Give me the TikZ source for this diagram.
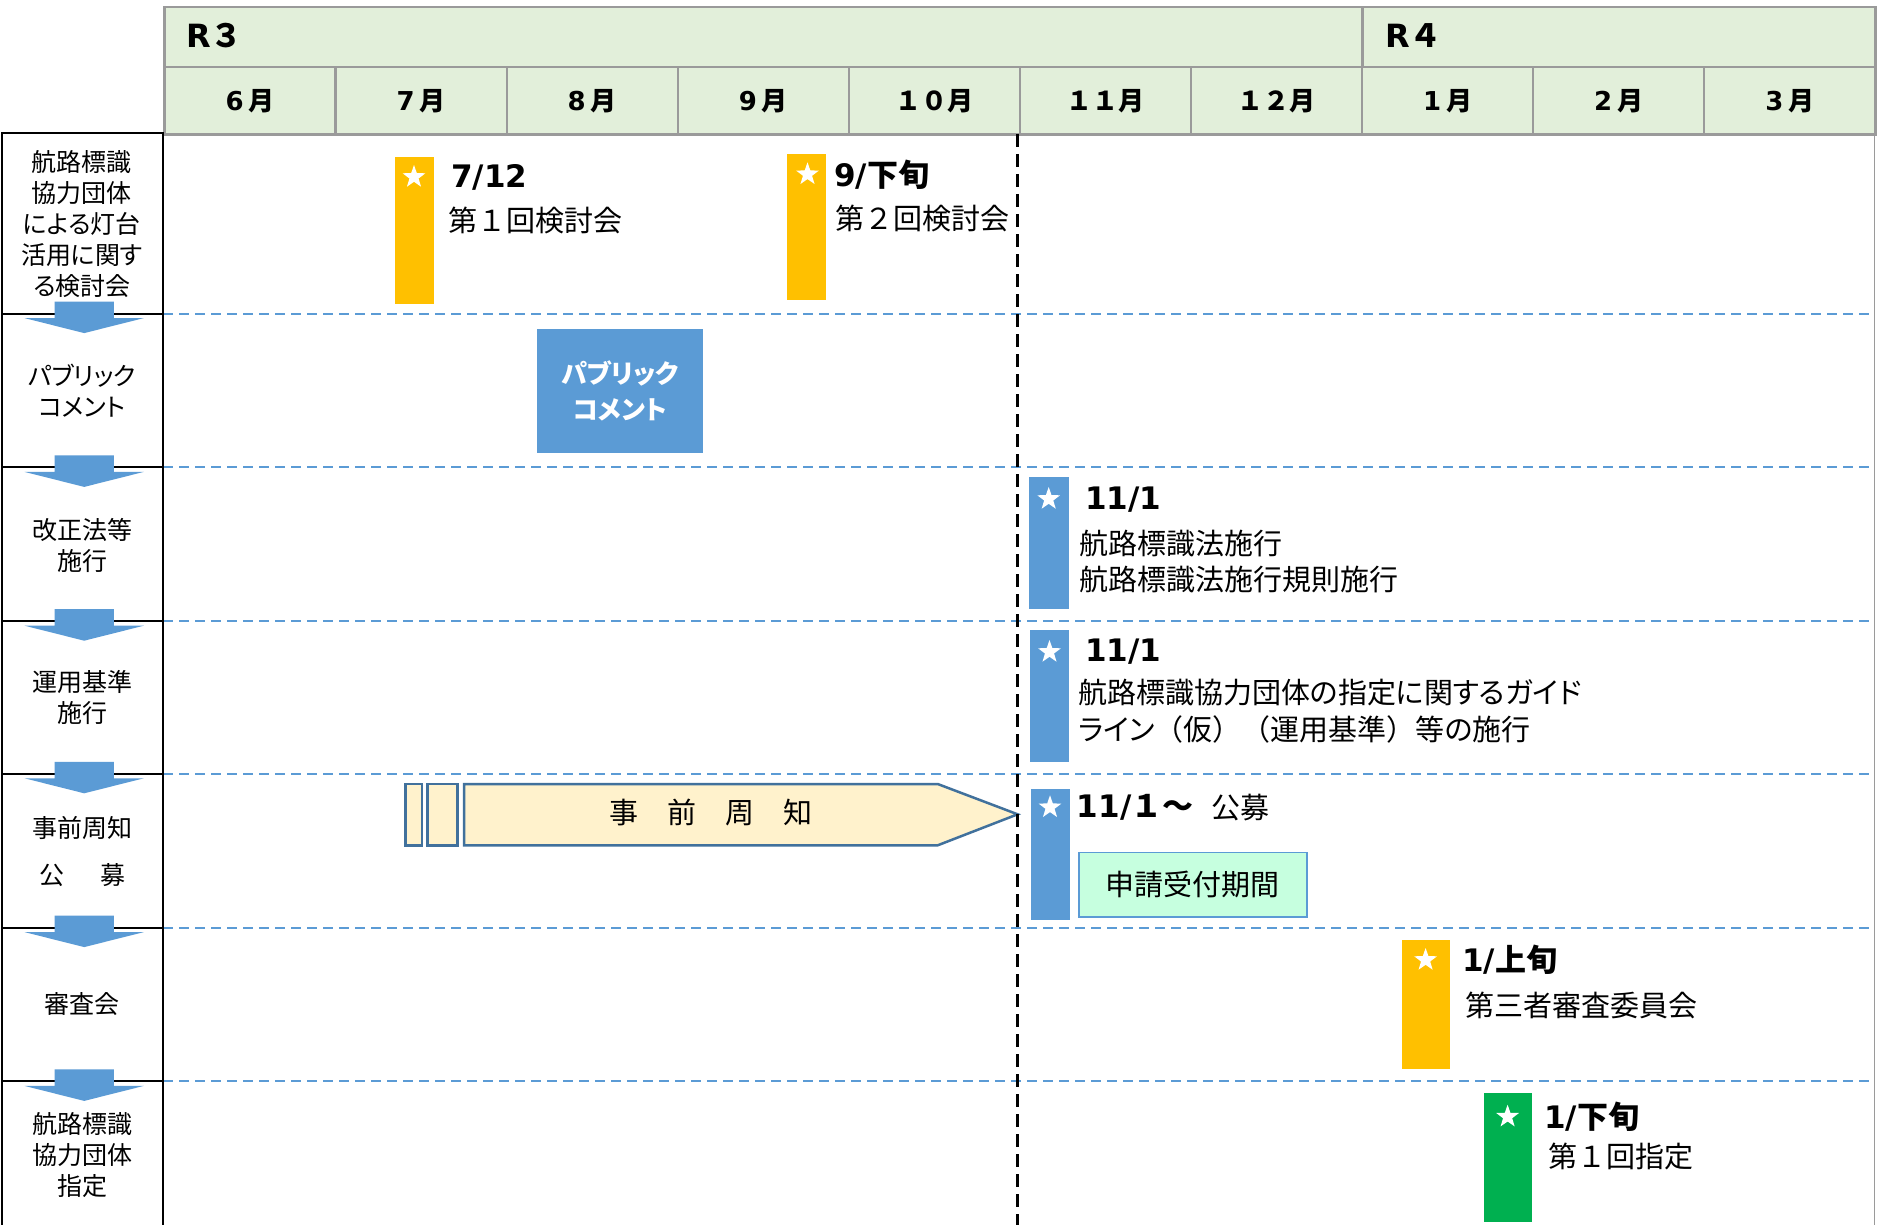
\documentclass[tikz,border=0pt]{standalone}
\usepackage{fontspec}
\setmainfont{Noto Sans CJK JP}
\newfontfamily\jpp{Noto Sans CJK JP}[RawFeature=+palt]
\newfontfamily\lat{DejaVu Sans}
\usetikzlibrary{shapes.geometric}
\definecolor{hdrfill}{HTML}{E2EFDA}
\definecolor{hdrline}{HTML}{9A9A9A}
\definecolor{accblue}{HTML}{5B9BD5}
\definecolor{accyellow}{HTML}{FFC000}
\definecolor{accgreen}{HTML}{00B050}
\definecolor{notefill}{HTML}{FFF2CC}
\definecolor{noteline}{HTML}{41719C}
\definecolor{mintfill}{HTML}{C6FFDF}
\tikzset{
  yearcell/.style={draw=hdrline, fill=hdrfill, line width=2.2pt, inner sep=0pt, anchor=north west},
  yeartext/.style={font=\bfseries\fontsize{32}{36}\selectfont, anchor=west, inner sep=0pt},
  monthcell/.style={draw=hdrline, fill=hdrfill, line width=2.2pt, inner sep=0pt, anchor=north west,
    minimum width=171.09pt, minimum height=67.4pt, font=\bfseries\fontsize{26}{30}\selectfont},
  colline/.style={draw=black, line width=2pt},
  rowsep/.style={draw=accblue, line width=2pt, dash pattern=on 10pt off 6pt},
  nowline/.style={draw=black, line width=2.5pt, dash pattern=on 13pt off 7pt},
  collbl/.style={font=\jpp\fontsize{25}{31}\selectfont, align=center, inner sep=0pt},
  evbar/.style={inner sep=0pt, anchor=north west, draw=none},
  evstar/.style={star, star points=5, star point ratio=2.5, fill=white, inner sep=0pt, minimum size=24pt},
  evdate/.style={font=\bfseries\fontsize{31}{36}\selectfont, anchor=west, inner sep=0pt},
  evtext/.style={font=\fontsize{29}{36.5}\selectfont, anchor=west, align=left, inner sep=0pt},
  downarrow/.style={fill=accblue}
}
\begin{document}
\begin{tikzpicture}[x=1pt,y=-1pt]
\useasboundingbox (0,0) rectangle (1884,1225);
\fill[white] (0,0) rectangle (1884,1225);

% ---------- header ----------
\node[yearcell, minimum width=1197.9pt, minimum height=60pt] (r3) at (163.4,6) {};
\node[yeartext] (r3t) at (186,36) {{\lat R}３};
\node[yearcell, minimum width=513pt, minimum height=60pt] (r4) at (1361.3,6) {};
\node[yeartext] (r4t) at (1385,36) {{\lat R}４};
\foreach \lab [count=\i from 0] in {{{\lat 6}\hspace{5pt}月},{{\lat 7}\hspace{5pt}月},{{\lat 8}\hspace{5pt}月},{{\lat 9}\hspace{5pt}月},{１０月},{１１月},{１２月},{{\lat 1}\hspace{5pt}月},{{\lat 2}\hspace{5pt}月},{{\lat 3}\hspace{5pt}月}}{
  \node[monthcell] (mon\i) at ({163.4+171.09*\i},66) {\lab};
}

% ---------- grid ----------
\foreach \d in {313.6,467.4,621.2,773.8,927.6,1081.4}{
  \draw[rowsep] (163.4,\d) -- (1874.3,\d);
}
\draw[draw=hdrline, line width=1.5pt] (1874.3,133.4) -- (1874.3,1230);

% left column
\draw[colline] (2.4,1230) -- (2.4,133.4) -- (163.4,133.4) -- (163.4,1230);
\foreach \d in {313.6,467.4,621.2,773.8,927.6,1081.4}{
  \draw[colline] (2.4,\d) -- (163.4,\d);
  \fill[downarrow] (54.5,\d-12) -- (113.8,\d-12) -- (113.8,\d+4.5) -- (143.8,\d+4.5)
     -- (84.2,\d+19.5) -- (24.6,\d+4.5) -- (54.5,\d+4.5) -- cycle;
}

\node[collbl] (l1) at (82,224) {航路標識\\協力団体\\による灯台\\活用に関す\\る検討会};
\node[collbl] (l2) at (82,390.5) {パブリック\\コメント};
\node[collbl] (l3) at (82,545) {改正法等\\施行};
\node[collbl] (l4) at (82,697) {運用基準\\施行};
\node[collbl] (l5a) at (82,828.3) {事前周知};
\node[collbl] (l5b) at (82,875) {公\hspace{36pt}募};
\node[collbl] (l6) at (82,1004.5) {審査会};
\node[collbl] (l7) at (82,1155.5) {航路標識\\協力団体\\指定};

% ---------- events ----------
% 7/12
\node[evbar, fill=accyellow, minimum width=39pt, minimum height=146.6pt] (bar1) at (394.6,156.7) {};
\node[evstar] (st1) at (414,177) {};
\node[evdate] (d1) at (451,177) {{\lat 7/12}};
\node[evtext] (t1) at (448.7,220) {第１回検討会};

% 9/下旬
\node[evbar, fill=accyellow, minimum width=39.3pt, minimum height=145.7pt] (bar2) at (786.7,154.3) {};
\node[evstar] (st2) at (807.5,174.3) {};
\node[evdate] (d2) at (834,174.3) {{\lat 9/}下旬};
\node[evtext] (t2) at (835,218.3) {第２回検討会};

% public comment
\node[fill=accblue, minimum width=166pt, minimum height=124pt, inner sep=0pt,
      font=\jpp\bfseries\fontsize{26}{36}\selectfont, text=white, align=center] (pc) at (620,391) {パブリック\\コメント};

% 11/1 law
\node[evbar, fill=accblue, minimum width=40.5pt, minimum height=132pt] (bar3) at (1028.5,477) {};
\node[evstar] (st3) at (1048.7,499) {};
\node[evdate] (d3) at (1085,500) {{\lat 11/1}};
\node[evtext] (t3) at (1079.5,561.5) {航路標識法施行\\航路標識法施行規則施行};

% 11/1 guideline
\node[evbar, fill=accblue, minimum width=39pt, minimum height=132pt] (bar4) at (1030,630) {};
\node[evstar] (st4) at (1049.5,652) {};
\node[evdate] (d4) at (1085,652) {{\lat 11/1}};
\node[evtext] (t4) at (1078,711) {{\jpp 航路標識協力団体の指定に関するガイド}\\{\jpp ライン}（仮）（運用基準）等{\jpp の}施行};

% advance notice arrow
\draw[fill=notefill, draw=noteline, line width=2.5pt] (405.3,784) rectangle (422,845.3);
\draw[fill=notefill, draw=noteline, line width=2.5pt] (427.6,784) rectangle (457.4,845.3);
\draw[fill=notefill, draw=noteline, line width=2.5pt, line join=miter]
   (464.2,784) -- (937.7,784) -- (1017.6,814.3) -- (937.7,845.3) -- (464.2,845.3) -- cycle;
\node[font=\fontsize{29}{34}\selectfont, inner sep=0pt] (pre) at (711,812) {事　前　周　知};

% 11/1~ recruitment
\node[evbar, fill=accblue, minimum width=38.6pt, minimum height=131.7pt] (bar5) at (1030.7,788.3) {};
\node[evstar] (st5) at (1050,807.3) {};
\node[evdate] (d5) at (1076.7,807.3) {{\lat 11/}１～};
\node[evtext] (t5) at (1211.7,807.3) {公募};
\node[draw=accblue, fill=mintfill, line width=1.5pt, minimum width=227.7pt, minimum height=64.3pt,
      inner sep=0pt, anchor=north west, font=\fontsize{29}{34}\selectfont] (app) at (1078.3,851.7) {申請受付期間};

% 1/上旬
\node[evbar, fill=accyellow, minimum width=48.4pt, minimum height=129pt] (bar6) at (1401.4,940) {};
\node[evstar] (st6) at (1425.6,960) {};
\node[evdate] (d6) at (1462,960) {{\lat 1/}上旬};
\node[evtext] (t6) at (1465.6,1005) {第三者審査委員会};

% 1/下旬
\node[evbar, fill=accgreen, minimum width=47.9pt, minimum height=129.4pt] (bar7) at (1483.7,1092.3) {};
\node[evstar] (st7) at (1507.6,1116.7) {};
\node[evdate] (d7) at (1544,1116.7) {{\lat 1/}下旬};
\node[evtext] (t7) at (1548,1156.7) {第１回指定};

% now line
\draw[nowline] (1017.7,134) -- (1017.7,1225);
\end{tikzpicture}
\end{document}
